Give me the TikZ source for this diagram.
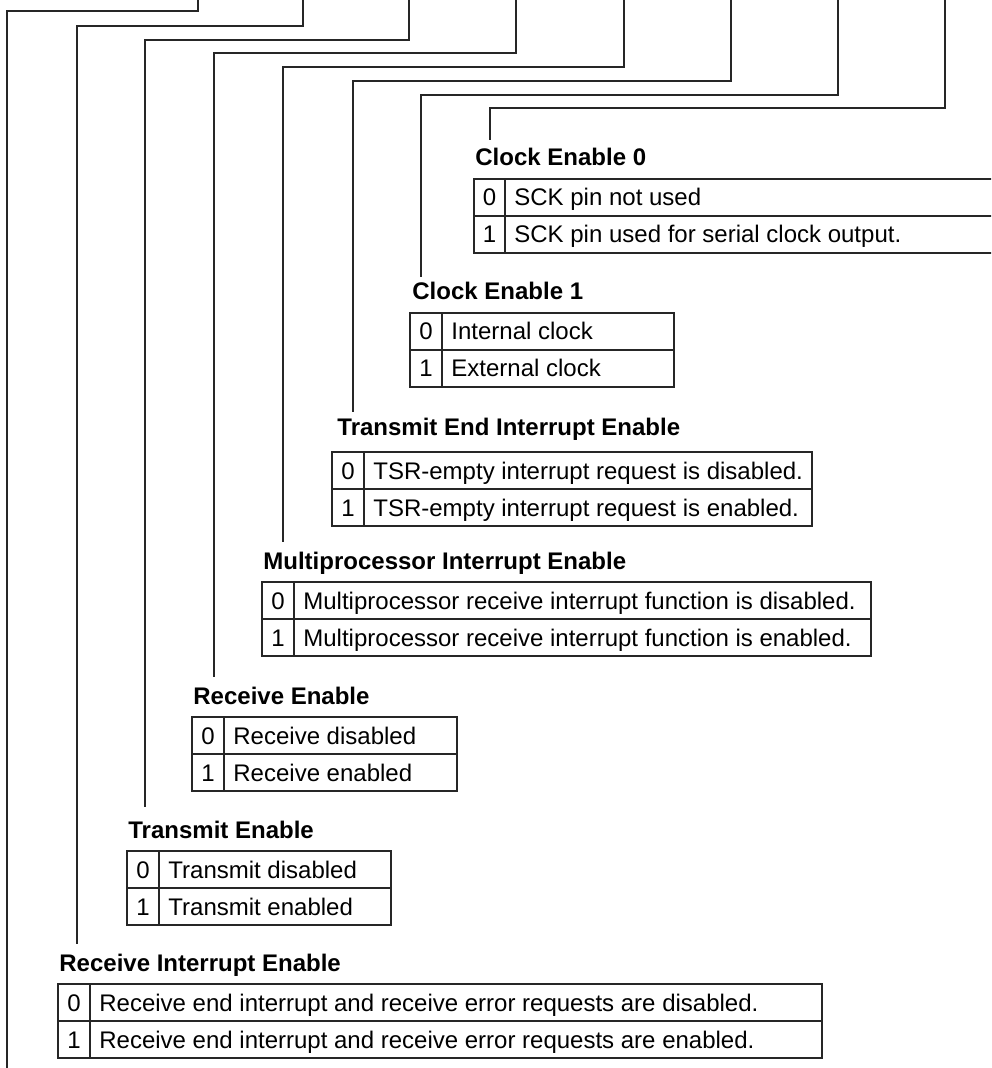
\documentclass[tikz,border=0pt]{standalone}
\usepackage{fontspec}
\setmainfont{Liberation Sans}
\usetikzlibrary{positioning}
\tikzset{
  wire/.style={draw=black!85, line width=0.6pt},
  grid/.style={draw=black!85, line width=0.6pt},
  txt/.style={inner sep=0pt, font=\fontsize{12pt}{14pt}\selectfont},
  fieldname/.style={txt, anchor=base west, font=\fontsize{12pt}{14pt}\selectfont\bfseries},
  bitval/.style={txt, anchor=base},
  bitdesc/.style={txt, anchor=base west},
}
\begin{document}
\begin{tikzpicture}[x=0.5pt, y=-0.5pt]
  \clip (0,0) rectangle (991,1068);
  % wires from the register bits
  \coordinate (tieT) at (198,0);  \coordinate (tieE) at (7,1075);
  \coordinate (rieT) at (303,0);  \coordinate (rieE) at (77,944);
  \coordinate (teT)  at (409,0);  \coordinate (teE)  at (145,807);
  \coordinate (reT)  at (516,0);  \coordinate (reE)  at (214,677);
  \coordinate (mpieT) at (624,0); \coordinate (mpieE) at (283,542);
  \coordinate (teieT) at (731,0); \coordinate (teieE) at (353,412);
  \coordinate (cke1T) at (838,0); \coordinate (cke1E) at (421,277);
  \coordinate (cke0T) at (945,0); \coordinate (cke0E) at (490,140);
  \draw[wire] (tieT)  -- ++(0,11)  -| (tieE);
  \draw[wire] (rieT)  -- ++(0,26)  -| (rieE);
  \draw[wire] (teT)   -- ++(0,40)  -| (teE);
  \draw[wire] (reT)   -- ++(0,53)  -| (reE);
  \draw[wire] (mpieT) -- ++(0,67)  -| (mpieE);
  \draw[wire] (teieT) -- ++(0,81)  -| (teieE);
  \draw[wire] (cke1T) -- ++(0,95)  -| (cke1E);
  \draw[wire] (cke0T) -- ++(0,108) -| (cke0E);

  % Clock Enable 0
  \node[fieldname] (cke0) at (475,166) {Clock Enable 0};
  \draw[grid] (474,179) rectangle (1010,253) (474,216) -- (1010,216) (505,179) -- (505,253);
  \node[bitval] (cke0v0) at (489.5,206) {0}; \node[bitdesc] (cke0d0) at (514,206) {SCK pin not used};
  \node[bitval] (cke0v1) at (489.5,243) {1}; \node[bitdesc] (cke0d1) at (514,243) {SCK pin used for serial clock output.};

  % Clock Enable 1
  \node[fieldname] (cke1) at (412,300) {Clock Enable 1};
  \draw[grid] (410,313) rectangle (674,387) (410,350) -- (674,350) (442,313) -- (442,387);
  \node[bitval] (cke1v0) at (426,340) {0}; \node[bitdesc] (cke1d0) at (451,340) {Internal clock};
  \node[bitval] (cke1v1) at (426,377) {1}; \node[bitdesc] (cke1d1) at (451,377) {External clock};

  % Transmit End Interrupt Enable
  \node[fieldname] (teie) at (337,436) {Transmit End Interrupt Enable};
  \draw[grid] (332,452) rectangle (812,526) (332,489) -- (812,489) (364,452) -- (364,526);
  \node[bitval] (teiev0) at (348,479) {0}; \node[bitdesc] (teied0) at (373,479) {TSR-empty interrupt request is disabled.};
  \node[bitval] (teiev1) at (348,516) {1}; \node[bitdesc] (teied1) at (373,516) {TSR-empty interrupt request is enabled.};

  % Multiprocessor Interrupt Enable
  \node[fieldname] (mpie) at (263,569) {Multiprocessor Interrupt Enable};
  \draw[grid] (262,582) rectangle (871,656) (262,619) -- (871,619) (294,582) -- (294,656);
  \node[bitval] (mpiev0) at (278,609) {0}; \node[bitdesc] (mpied0) at (303,609) {Multiprocessor receive interrupt function is disabled.};
  \node[bitval] (mpiev1) at (278,646) {1}; \node[bitdesc] (mpied1) at (303,646) {Multiprocessor receive interrupt function is enabled.};

  % Receive Enable
  \node[fieldname] (re) at (193,704) {Receive Enable};
  \draw[grid] (192,717) rectangle (457,791) (192,754) -- (457,754) (224,717) -- (224,791);
  \node[bitval] (rev0) at (208,744) {0}; \node[bitdesc] (red0) at (233,744) {Receive disabled};
  \node[bitval] (rev1) at (208,781) {1}; \node[bitdesc] (red1) at (233,781) {Receive enabled};

  % Transmit Enable
  \node[fieldname] (te) at (128,838) {Transmit Enable};
  \draw[grid] (127,851) rectangle (391,925) (127,888) -- (391,888) (159,851) -- (159,925);
  \node[bitval] (tev0) at (143,878) {0}; \node[bitdesc] (ted0) at (168,878) {Transmit disabled};
  \node[bitval] (tev1) at (143,915) {1}; \node[bitdesc] (ted1) at (168,915) {Transmit enabled};

  % Receive Interrupt Enable
  \node[fieldname] (rie) at (59,971) {Receive Interrupt Enable};
  \draw[grid] (58,984) rectangle (822,1058) (58,1021) -- (822,1021) (90,984) -- (90,1058);
  \node[bitval] (riev0) at (74,1011) {0}; \node[bitdesc] (ried0) at (99,1011) {Receive end interrupt and receive error requests are disabled.};
  \node[bitval] (riev1) at (74,1048) {1}; \node[bitdesc] (ried1) at (99,1048) {Receive end interrupt and receive error requests are enabled.};
\end{tikzpicture}
\end{document}
